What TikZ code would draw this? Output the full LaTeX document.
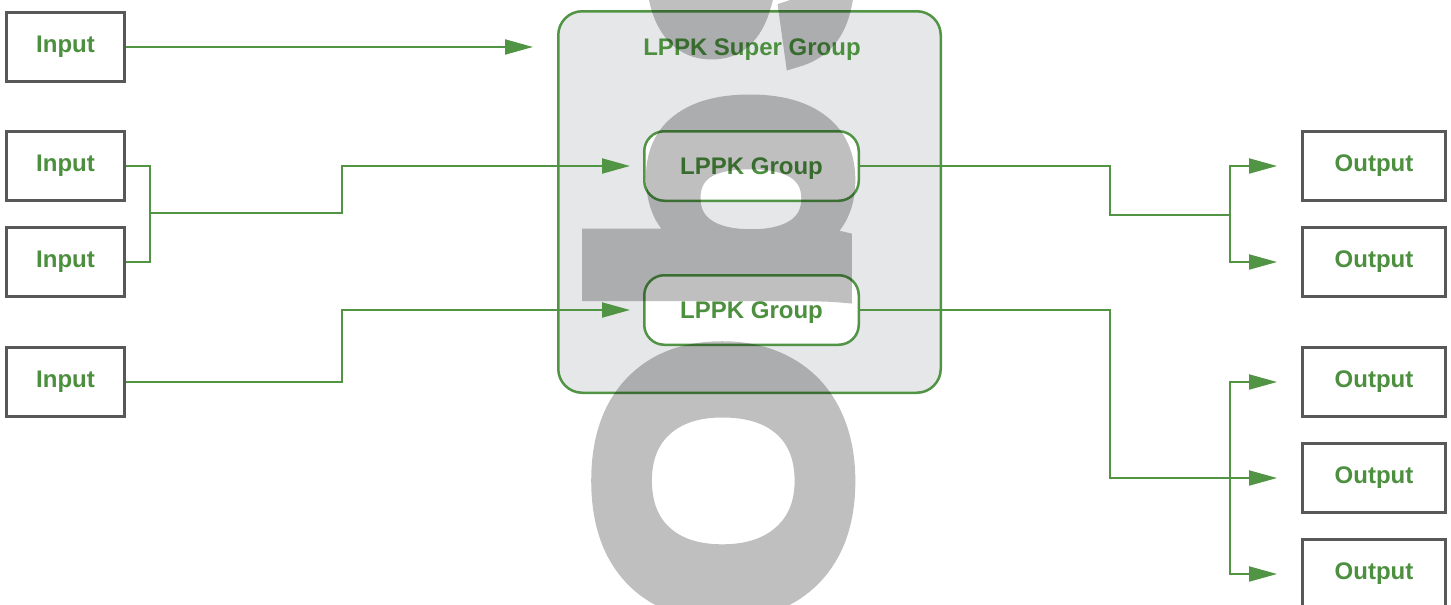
\documentclass[tikz,border=0pt]{standalone}
\usepackage{fontspec}
\setmainfont{Liberation Sans}
\newfontfamily\wmfam{Liberation Sans}[BoldFeatures={FakeBold=6.4,FakeStretch=1.08}]
\usetikzlibrary{arrows.meta}
\definecolor{lgreen}{RGB}{80,148,68}
\definecolor{tgreen}{RGB}{76,143,62}
\definecolor{boxgray}{RGB}{88,88,88}
\definecolor{sgfill}{RGB}{230,231,233}
\begin{document}
\begin{tikzpicture}[x=1pt,y=-1pt,
  lbl/.style={font=\bfseries\fontsize{24}{28}\selectfont, text=tgreen},
  iobox/.style={lbl, draw=boxgray, line width=3pt, fill=white, minimum width=118pt, minimum height=69pt, inner sep=0pt},
  outbox/.style={iobox, minimum width=143pt},
  grp/.style={lbl, draw=lgreen, line width=2.5pt, fill=white, rounded corners=20pt, minimum width=214.5pt, minimum height=69.5pt, inner sep=0pt, text height=17pt, text depth=0pt},
  sgbox/.style={draw=lgreen, line width=2.5pt, fill=sgfill, rounded corners=24pt, minimum width=382.5pt, minimum height=381.5pt, inner sep=0pt},
  wire/.style={draw=lgreen, line width=2pt},
  arr/.style={wire, -{Triangle[length=28pt,width=15pt]}},
]
\useasboundingbox (0,0) rectangle (1451,605);
\begin{scope}
\clip (0,0) rectangle (1451,605);
% super group
\node[sgbox] (sg) at (749.5,202) {};
\node[lbl, inner sep=0pt] (sglabel) at (752,49.5) {LPPK Super Group};
% groups
\node[grp] (g1) at (751.5,166) {LPPK Group};
\node[grp] (g2) at (751.5,310) {LPPK Group};
% inputs
\node[iobox] (in1) at (65.5,47) {Input};
\node[iobox] (in2) at (65.5,166) {Input};
\node[iobox] (in3) at (65.5,262) {Input};
\node[iobox] (in4) at (65.5,382) {Input};
% outputs
\node[outbox] (o1) at (1374,166) {Output};
\node[outbox] (o2) at (1374,262) {Output};
\node[outbox] (o3) at (1374,382) {Output};
\node[outbox] (o4) at (1374,478) {Output};
\node[outbox] (o5) at (1374,574) {Output};
% helper coordinates
\coordinate (j1) at (150,213);
\coordinate (colA) at (342,0);
\coordinate (colB) at (1110,0);
\coordinate (j2) at (1230,215);
\coordinate (j3) at (1230,478);
% connectors
\draw[arr, shorten >=24pt] (in1.east) -- (in1.east -| sg.west);
\draw[wire] (in2.east) -| (j1);
\draw[wire] (in3.east) -| (j1);
\draw[arr, shorten >=13pt] (j1) -| (colA |- g1) -- (g1.west);
\draw[arr, shorten >=13pt] (in4.east) -| (colA |- g2) -- (g2.west);
\draw[wire] (g1.east) -| (colB |- j2) -- (j2);
\draw[arr, shorten >=24pt] (j2) |- (o1.west);
\draw[arr, shorten >=24pt] (j2) |- (o2.west);
\draw[arr, shorten >=24pt] (g2.east) -| (colB |- o4) -- (o4.west);
\draw[arr, shorten >=24pt] (j3) |- (o3.west);
\draw[arr, shorten >=24pt] (j3) |- (o5.west);
% watermark
\begin{scope}[transparency group, opacity=0.25]
\node[rotate=90, anchor=base west, inner sep=0pt, outer sep=0pt, text=black,
      font=\wmfam\bfseries\fontsize{342}{342}\selectfont] (wm) at (841,624) {O\kern21pt b\kern21pt s};
\end{scope}
\end{scope}
\end{tikzpicture}
\end{document}
